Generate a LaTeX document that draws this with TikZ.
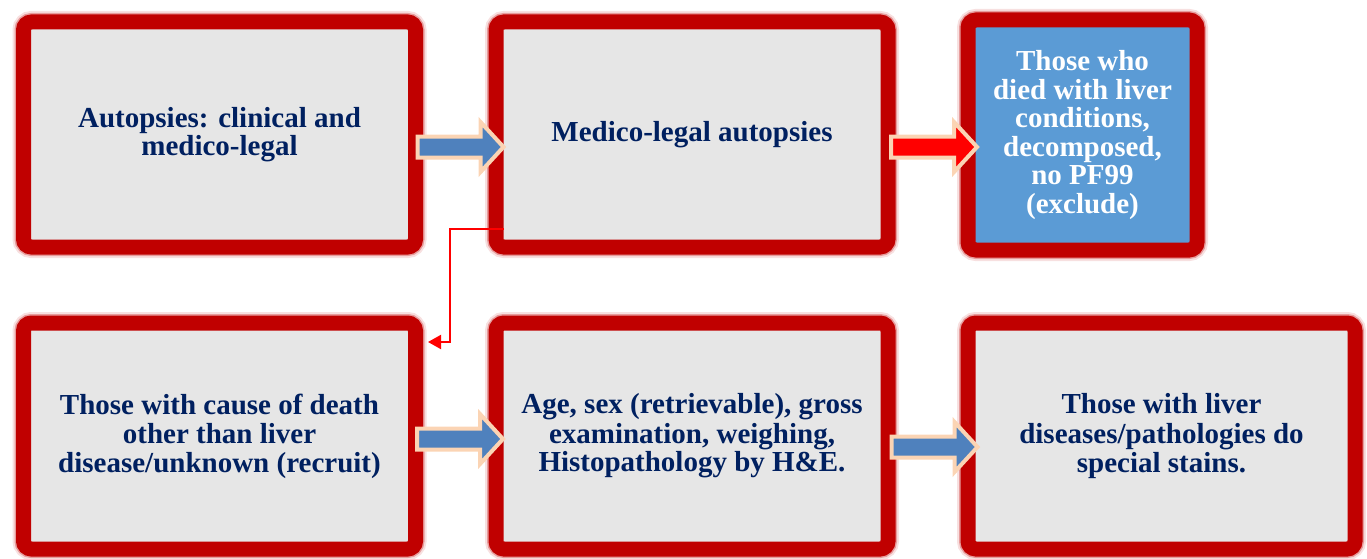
\documentclass[tikz,border=0pt]{standalone}
\usepackage{fontspec}
\setmainfont{Liberation Serif}
\usetikzlibrary{arrows.meta,calc,positioning}

\definecolor{boxred}{HTML}{C00000}
\definecolor{boxgray}{HTML}{E6E6E6}
\definecolor{boxblue}{HTML}{5B9BD5}
\definecolor{textnavy}{HTML}{002060}
\definecolor{arrowblue}{HTML}{4F81BD}
\definecolor{arrowpeach}{HTML}{FBD4B4}

\tikzset{
  stagebox/.style={draw=boxred, line width=15pt, rounded corners=8pt, fill=boxgray,
    preaction={draw=boxred, draw opacity=0.12, line width=22pt},
    preaction={draw=boxred, draw opacity=0.3, line width=18pt},
    minimum width=392pt, minimum height=225pt, inner sep=0pt, outer sep=0pt,
    align=center, text=textnavy, font=\bfseries\fontsize{29}{28.5}\selectfont},
  excludebox/.style={stagebox, fill=boxblue, text=white, minimum width=229pt, minimum height=230pt},
  pics/flowarrow/.style={code={
    \draw[draw=arrowpeach, line width=4pt, line join=miter, fill=#1]
      (-43,-10.5) -- (20,-10.5) -- (20,-25) -- (43,0) -- (20,25) -- (20,10.5) -- (-43,10.5) -- cycle;
  }},
  linkarrow/.style={draw=red, line width=2pt, -{Triangle[length=13pt,width=14pt]}}
}

\begin{document}
\begin{tikzpicture}[x=1pt,y=-1pt]
  \useasboundingbox (0,0) rectangle (1367,559);
  % top row
  \node[stagebox] (b1) at (219.5,134.5) {Autopsies: clinical and\\medico-legal};
  \node[stagebox] (b2) at (692,134.5) {Medico-legal autopsies};
  \node[excludebox] (b3) at (1082.5,135) {Those who\\died with liver\\conditions,\\decomposed,\\no PF99\\(exclude)};
  % bottom row
  \node[stagebox, minimum height=226pt] (b4) at (219.5,436) {\strut Those with cause of death\\other than liver\\disease/unknown (recruit)};
  \node[stagebox, minimum height=226pt] (b5) at (692,436) {\strut Age, sex (retrievable), gross\\examination, weighing,\\Histopathology by H\&E.};
  \node[stagebox, minimum height=226pt, minimum width=387pt] (b6) at (1161.5,436) {\strut Those with liver\\diseases/pathologies do\\special stains.};
  % block arrows
  \pic (a1) at (460.5,147) {flowarrow=arrowblue};
  \pic (a2) at (934,147) {flowarrow=red};
  \pic (a3) at (460,439) {flowarrow=arrowblue};
  \pic (a4) at (934.5,447) {flowarrow=arrowblue};
  % link from medico-legal to recruit
  \coordinate (lk0) at ($(b2.south west)+(8,-18)$);
  \coordinate (lk2) at ($(b4.north east)+(12.5,19)$);
  \draw[linkarrow] (lk0) -| ($(lk2)+(22,0)$) -- (lk2);
\end{tikzpicture}
\end{document}
